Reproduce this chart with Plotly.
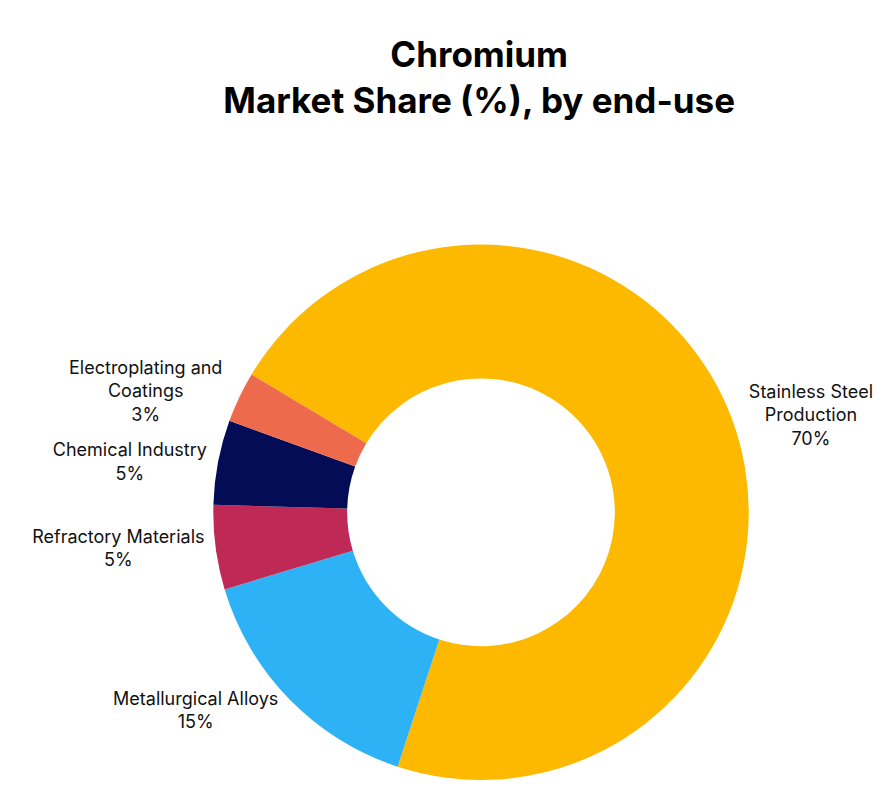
import plotly.graph_objects as go

labels = ["Stainless Steel Production", "Metallurgical Alloys", "Refractory Materials", "Chemical Industry", "Electroplating and Coatings"]
display = ["Stainless Steel<br>Production", "Metallurgical Alloys", "Refractory Materials", "Chemical Industry", "Electroplating and<br>Coatings"]
values = [70, 15, 5, 5, 3]
colors = ["#FDB900", "#2DB2F5", "#BE2A55", "#040C55", "#EE6A4D"]

fig = go.Figure(go.Pie(
    labels=labels, values=values, customdata=display,
    hole=0.5, sort=False, direction="clockwise", rotation=301,
    marker=dict(colors=colors),
    textposition="outside", texttemplate="%{customdata}<br>%{value}%",
    textfont=dict(family="Inter", size=18, color="#111"),
    showlegend=False,
    domain=dict(x=[0.0, 1.0], y=[0.0, 0.92]),
))
fig.update_layout(
    width=889, height=792, paper_bgcolor="white",
    title=dict(text="<b>Chromium<br>Market Share (%), by end-use</b>", x=0.53, y=0.925,
               xanchor="center", font=dict(family="Inter", size=35, color="black")),
    margin=dict(l=0, r=0, t=190, b=20),
)
fig.write_html("out.html")
